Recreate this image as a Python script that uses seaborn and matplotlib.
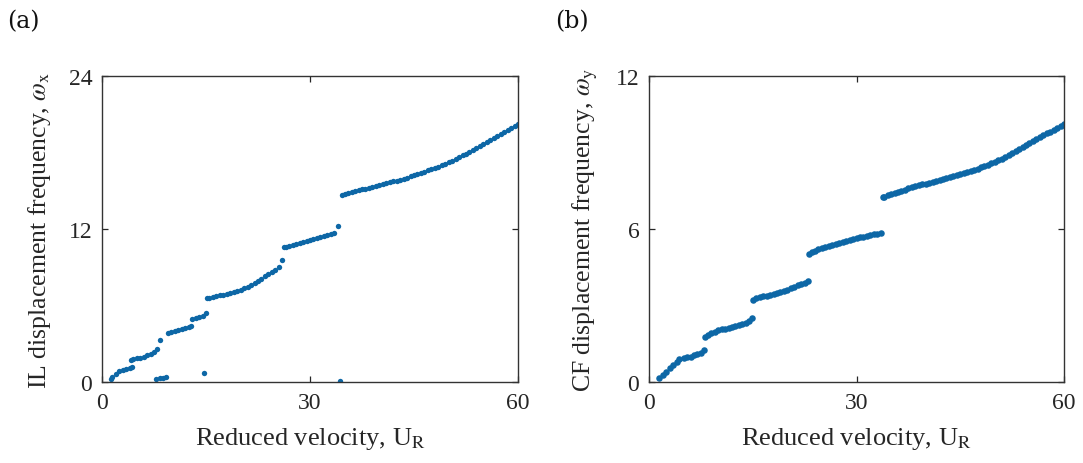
import matplotlib
matplotlib.use("Agg")
import matplotlib.pyplot as plt
import seaborn as sns
import pandas as pd

# ---------------- data: panel (a) in-line frequency ----------------
ur_a = [1.3, 1.5, 2.0, 2.5, 3.0, 3.5, 4.0, 4.3,
        4.2, 4.5, 5.0, 5.5, 6.0, 6.5, 7.0, 7.5, 7.9,
        8.4,
        7.8, 8.3, 8.8, 9.3,
        9.5, 10.0, 10.5, 11.0, 11.5, 12.0, 12.5, 12.9,
        13.0, 13.5, 14.0, 14.5, 15.0,
        14.7,
        15.2, 15.5, 16.0, 16.5, 17.0, 17.5, 18.0, 18.5, 19.0, 19.5, 20.0, 20.5,
        21.0, 21.5, 22.0, 22.5, 23.0, 23.5, 24.0, 24.5, 25.0, 25.5, 25.9,
        26.2, 26.5, 27.0, 27.5, 28.0, 28.5, 29.0, 29.5, 30.0, 30.5, 31.0, 31.5,
        32.0, 32.5, 33.0, 33.5, 34.0,
        34.3,
        34.6, 35.0, 35.5, 36.0, 36.5, 37.0, 37.5, 38.0, 38.5, 39.0, 39.5, 40.0,
        40.5, 41.0, 41.5, 42.0, 42.5, 43.0, 43.5, 44.0, 44.5, 45.0, 45.5, 46.0,
        46.5, 47.0, 47.5, 48.0, 48.5, 49.0, 49.5, 50.0, 50.5, 51.0, 51.5, 52.0,
        52.5, 53.0, 53.5, 54.0, 54.5, 55.0, 55.5, 56.0, 56.5, 57.0, 57.5, 58.0,
        58.5, 59.0, 59.5, 60.0]
wx = [0.26, 0.40, 0.65, 0.85, 0.95, 1.00, 1.08, 1.15,
      1.73, 1.78, 1.85, 1.92, 2.00, 2.10, 2.20, 2.35, 2.55,
      3.30,
      0.25, 0.28, 0.30, 0.38,
      3.87, 3.95, 4.03, 4.10, 4.18, 4.25, 4.30, 4.40,
      4.92, 5.05, 5.12, 5.20, 5.45,
      0.68,
      6.55, 6.60, 6.65, 6.72, 6.80, 6.85, 6.93, 7.00, 7.08, 7.17, 7.25, 7.35,
      7.47, 7.60, 7.74, 7.90, 8.10, 8.30, 8.48, 8.65, 8.82, 9.05, 9.60,
      10.55, 10.60, 10.68, 10.75, 10.82, 10.90, 10.97, 11.05, 11.12, 11.20, 11.28, 11.35,
      11.42, 11.50, 11.60, 11.72, 12.20,
      0.05,
      14.69, 14.75, 14.82, 14.89, 14.96, 15.03, 15.10, 15.17, 15.24, 15.31, 15.38, 15.45,
      15.52, 15.59, 15.66, 15.73, 15.80, 15.87, 15.95, 16.03, 16.12, 16.21, 16.30, 16.40,
      16.50, 16.60, 16.70, 16.80, 16.90, 17.00, 17.12, 17.24, 17.37, 17.50, 17.63, 17.77,
      17.91, 18.06, 18.22, 18.37, 18.52, 18.67, 18.82, 18.97, 19.12, 19.27, 19.43, 19.58,
      19.74, 19.89, 20.05, 20.20]

# ---------------- data: panel (b) cross-flow frequency ----------------
ur_b = [1.5, 2.0, 2.5, 3.0, 3.5, 4.0, 4.4, 5.0, 5.5, 6.0, 6.5, 7.0, 7.5, 8.0,
        8.1, 8.5, 9.0, 9.5, 10.0, 10.5, 11.0, 11.5, 12.0, 12.5, 13.0, 13.5, 14.0, 14.5, 14.9,
        15.0, 15.5, 16.0, 16.5, 17.0, 17.5, 18.0, 18.5, 19.0, 19.5, 20.0, 20.5, 21.0, 21.5,
        22.0, 22.5, 23.0,
        23.2, 23.5, 24.0, 24.5, 25.0, 25.5, 26.0, 26.5, 27.0, 27.5, 28.0, 28.5, 29.0, 29.5,
        30.0, 30.5, 31.0, 31.5, 32.0, 32.5, 33.0, 33.5,
        33.8, 34.0, 34.5, 35.0, 35.5, 36.0, 36.5, 37.0, 37.5, 38.0, 38.5, 39.0, 39.5, 40.0,
        40.5, 41.0, 41.5, 42.0, 42.5, 43.0, 43.5, 44.0, 44.5, 45.0, 45.5, 46.0, 46.5, 47.0,
        47.5, 48.0, 48.5, 49.0, 49.5, 50.0, 50.5, 51.0, 51.5, 52.0, 52.5, 53.0, 53.5, 54.0,
        54.5, 55.0, 55.5, 56.0, 56.5, 57.0, 57.5, 58.0, 58.5, 59.0, 59.5, 60.0]
wy = [0.15, 0.27, 0.40, 0.53, 0.66, 0.79, 0.90, 0.95, 0.98, 1.00, 1.04, 1.09, 1.15, 1.25,
      1.75, 1.84, 1.92, 1.97, 2.02, 2.06, 2.09, 2.12, 2.15, 2.18, 2.22, 2.27, 2.33, 2.41, 2.52,
      3.23, 3.28, 3.32, 3.36, 3.39, 3.42, 3.45, 3.48, 3.51, 3.56, 3.62, 3.68, 3.74, 3.80,
      3.85, 3.90, 3.95,
      5.03, 5.08, 5.14, 5.20, 5.25, 5.30, 5.34, 5.38, 5.42, 5.46, 5.50, 5.53, 5.56, 5.60,
      5.63, 5.67, 5.70, 5.73, 5.76, 5.79, 5.82, 5.86,
      7.25, 7.27, 7.32, 7.36, 7.41, 7.45, 7.50, 7.54, 7.59, 7.63, 7.67, 7.71, 7.75, 7.78,
      7.82, 7.85, 7.89, 7.92, 7.96, 7.99, 8.03, 8.07, 8.11, 8.15, 8.19, 8.23, 8.27, 8.32,
      8.37, 8.42, 8.47, 8.52, 8.57, 8.63, 8.69, 8.76, 8.83, 8.90, 8.98, 9.06, 9.14, 9.21,
      9.29, 9.36, 9.44, 9.52, 9.59, 9.67, 9.75, 9.82, 9.90, 9.98, 10.05, 10.13]

x_ticks = [0, 30, 60]
y_ticks_a = [0, 12, 24]
y_ticks_b = [0, 6, 12]
x_label = r"Reduced velocity, U$_{\mathrm{R}}$"
y_label_a = r"IL displacement frequency, $\omega_{\mathrm{x}}$"
y_label_b = r"CF displacement frequency, $\omega_{\mathrm{y}}$"
panel_labels = ["(a)", "(b)"]

# ---------------- styling ----------------
sns.set_style("ticks")
plt.rcParams["font.family"] = ["Liberation Serif", "DejaVu Serif"]
plt.rcParams["mathtext.fontset"] = "stix"

blue = "#0d67a6"
txt = "#262626"

fig = plt.figure(figsize=(10.83, 4.64), dpi=100)
ax_a = fig.add_axes([102 / 1083, 1 - 383 / 464, 416 / 1083, 306 / 464])
ax_b = fig.add_axes([649 / 1083, 1 - 383 / 464, 415 / 1083, 306 / 464])

df_a = pd.DataFrame({"UR": ur_a, "w": wx})
df_b = pd.DataFrame({"UR": ur_b, "w": wy})

sns.scatterplot(data=df_a, x="UR", y="w", ax=ax_a, color=blue, s=15,
                marker="o", linewidth=0, legend=False)
sns.scatterplot(data=df_b, x="UR", y="w", ax=ax_b, color=blue, s=22,
                marker="o", linewidth=0, legend=False)

for ax, yt, yl in [(ax_a, y_ticks_a, y_label_a), (ax_b, y_ticks_b, y_label_b)]:
    ax.set_xlim(0, 60)
    ax.set_ylim(yt[0], yt[-1])
    ax.set_xticks(x_ticks)
    ax.set_yticks(yt)
    ax.set_xticklabels([str(v) for v in x_ticks])
    ax.set_yticklabels([str(v) for v in yt])
    ax.tick_params(direction="in", length=4, width=0.9, top=True, right=True,
                   labelsize=17, colors=txt, pad=7)
    for sp in ax.spines.values():
        sp.set_visible(True)
        sp.set_linewidth(1.0)
        sp.set_color("#333333")
    ax.set_xlabel(x_label, fontsize=19, color=txt, labelpad=9)
    ax.set_ylabel(yl, fontsize=18.5, color=txt, labelpad=11)

fig.text(23 / 1083, 1 - 22 / 464, panel_labels[0], fontsize=17, ha="center",
         va="center", color="#111111", family="DejaVu Serif")
fig.text(572 / 1083, 1 - 22 / 464, panel_labels[1], fontsize=17, ha="center",
         va="center", color="#111111", family="DejaVu Serif")

fig.savefig("out.png", dpi=100)
